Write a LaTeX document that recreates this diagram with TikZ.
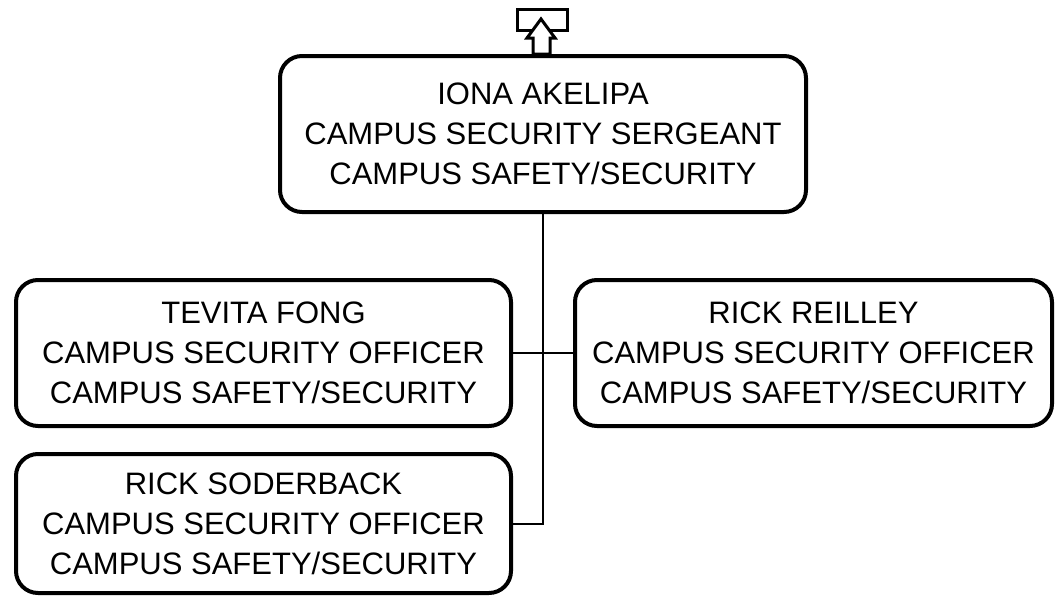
\documentclass[tikz,border=0pt]{standalone}
\usepackage{fontspec}
\setmainfont{Liberation Sans}
\usetikzlibrary{positioning}

\tikzset{
  person/.style={draw, line width=4pt, rounded corners=22pt, align=center,
    inner sep=0pt, font=\fontsize{31}{40}\selectfont},
  conn/.style={line width=2pt}
}

\begin{document}
\begin{tikzpicture}[x=1pt,y=-1pt]

\useasboundingbox (0,0) rectangle (1055,597);

% Sergeant
\node[person, minimum width=526pt, minimum height=156pt] (iona) at (543, 134)
  {IONA AKELIPA\\CAMPUS SECURITY SERGEANT\\CAMPUS SAFETY/SECURITY};

% Officers
\node[person, minimum width=495pt, minimum height=146pt] (tevita) at (263.5, 353)
  {TEVITA FONG\\CAMPUS SECURITY OFFICER\\CAMPUS SAFETY/SECURITY};
\node[person, minimum width=477pt, minimum height=146pt] (reilley) at (813.5, 353)
  {RICK REILLEY\\CAMPUS SECURITY OFFICER\\CAMPUS SAFETY/SECURITY};
\node[person, minimum width=495pt, minimum height=139pt] (soderback) at (263.5, 523.5)
  {RICK SODERBACK\\CAMPUS SECURITY OFFICER\\CAMPUS SAFETY/SECURITY};

% Connectors
\draw[conn] (iona.south) -- (iona.south |- soderback.east) -- (soderback.east);
\draw[conn] (tevita.east) -- (reilley.west);

% Up icon
\draw[line width=3pt] (517,9) rectangle (567,30);
\draw[line width=3pt, fill=white] (541,19) -- (555,38) -- (550,38) -- (550,54)
  -- (533,54) -- (533,38) -- (527,38) -- cycle;

\end{tikzpicture}
\end{document}
